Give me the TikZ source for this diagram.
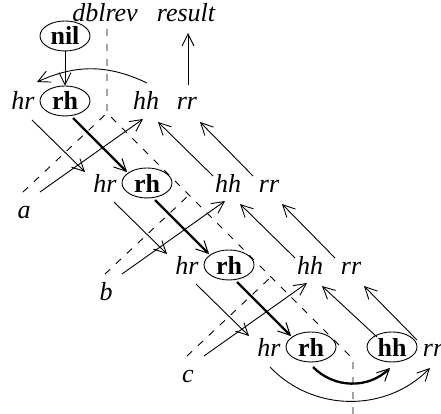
\documentclass[tikz,border=0pt]{standalone}
\usepackage{fontspec}
\setmainfont{Liberation Serif}
\usetikzlibrary{arrows.meta,shapes.geometric,calc}
\begin{document}
\begin{tikzpicture}[x=1pt,y=-1pt,
  lab/.style={font=\fontsize{26}{30}\selectfont\itshape, inner sep=0pt, anchor=base},
  box/.style={ellipse, draw, line width=0.9pt, font=\fontsize{26}{30}\selectfont\bfseries, minimum width=50pt, minimum height=30pt, inner sep=0pt, anchor=base},
  arr/.style={line width=0.9pt, -{Straight Barb[length=12pt,width=12pt,line width=0.9pt]}},
  tarr/.style={line width=2.3pt, -{Straight Barb[length=12pt,width=12pt,line width=1pt]}},
  dsh/.style={line width=0.9pt, dash pattern=on 7pt off 8pt},
]
\useasboundingbox (0,0) rectangle (441,414);
% nodes
\foreach \k in {0,1,2,3} {
  \node[lab] (hr\k) at (23+82*\k,110+82*\k) {hr};
  \node[box] (rh\k) at (65+82*\k,110+82*\k) {rh};
  \node[lab] (rr\k) at (187+82*\k,110+82*\k) {rr};
}
\foreach \k in {0,1,2} {
  \node[lab] (hh\k) at (146+82*\k,110+82*\k) {hh};
}
\node[box] (hh3) at (392,356) {hh};
\node[box] (nil) at (65,45) {nil};
\node[lab] (dbl) at (105,22) {dblrev};
\node[lab] (result) at (186,22) {result};
\node[lab] (la) at (24,218) {a};
\node[lab] (lb) at (106,300) {b};
\node[lab] (lc) at (188,382) {c};
% dashed structure
\coordinate (T) at (107,29);
\coordinate (P0) at (107,113);
\coordinate (P1) at (189,195);
\coordinate (P2) at (271,277);
\coordinate (P3) at (353,359);
\coordinate (B) at (353,414);
\draw[dsh] (T) -- (P0) -- (P1) -- (P2) -- (P3) -- (B);
\draw[dsh] ([shift={(-1,-26)}]la.base) -- (P0);
\draw[dsh] ([shift={(-1,-26)}]lb.base) -- (P1);
\draw[dsh] ([shift={(-1,-26)}]lc.base) -- (P2);
% arrows
\draw[arr] (nil) -- (rh0);
\foreach \k/\n in {0/1,1/2,2/3} {
  \draw[arr] ([shift={(9,10)}]hr\k.base) -- ([shift={(-20,-20)}]hr\n.base);
  \draw[tarr] ([shift={(8,8)}]rh\k.base) -- ([shift={(-20,-20)}]rh\n.base);
  \draw[arr] ([shift={(-16,-16)}]rr\n.base) -- ([shift={(13,12)}]rr\k.base);
}
\foreach \k/\n in {0/1,1/2} {
  \draw[arr] ([shift={(-15,-16)}]hh\n.base) -- ([shift={(12,12)}]hh\k.base);
}
\draw[arr] ([shift={(-15,-19)}]hh3.base) -- ([shift={(12,12)}]hh2.base);
\foreach \l/\k in {la/0,lb/1,lc/2} {
  \draw[arr] ([shift={(16,-26)}]\l.base) -- ([shift={(-3,9)}]hh\k.base);
}
\draw[arr] ([shift={(1,-25)}]rr0.base) -- ([shift={(2,11)}]result.base);
\draw[arr] ([shift={(1,-27)}]hh0.base) to[bend right=25] ([shift={(14,-28)}]hr0.base);
\draw[tarr] ([shift={(2,11)}]rh3.base) to[bend right=45] ([shift={(-2,12)}]hh3.base);
\draw[arr] ([shift={(1,11)}]hr3.base) to[bend right=46] ([shift={(-3,12)}]rr3.base);
\end{tikzpicture}
\end{document}
